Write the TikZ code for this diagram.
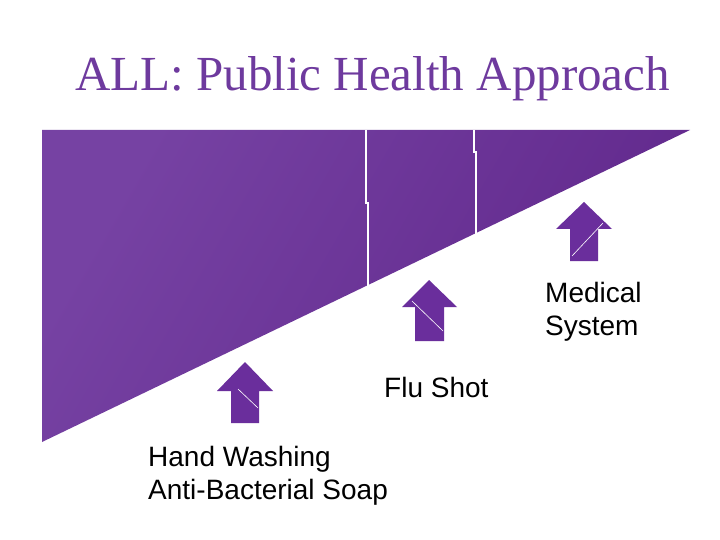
\documentclass[tikz,border=0pt]{standalone}
\usepackage{fontspec}
\setmainfont{Liberation Serif}
\newfontfamily\labelfont{Liberation Sans}
\definecolor{titlepurple}{HTML}{6E3A9E}
\definecolor{wedgelight}{HTML}{7642A3}
\definecolor{wedgedark}{HTML}{61288C}
\definecolor{arrowpurple}{HTML}{6A2E9C}
\tikzset{
  steplabel/.style={font=\labelfont\fontsize{28}{33}\selectfont,align=left,anchor=west,inner sep=0pt},
  uparrow/.style={fill=arrowpurple},
  cutline/.style={white,line width=1.5pt}
}
\begin{document}
\begin{tikzpicture}[x=1pt,y=-1pt]
\useasboundingbox[fill=white] (0,0) rectangle (720,540);
% title
\node[text=titlepurple,font=\fontsize{49}{58}\selectfont,anchor=west,inner sep=0pt] (title) at (75,79) {ALL: Public Health Approach};
% wedge
\shade[left color=wedgelight,right color=wedgedark,shading angle=60] (42,130) -- (690,130) -- (42,442) -- cycle;
\draw[cutline] (366,130) -- (366,203) -- (368,203) -- (368,286);
\draw[cutline] (474,130) -- (474,152) -- (476,152) -- (476,234);
% arrows
\fill[uparrow] (245,362) -- (273,391) -- (259,391) -- (259,423) -- (231,423) -- (231,391) -- (217,391) -- cycle;
\draw[white,line width=0.6pt] (238,389) -- (258,408);
\fill[uparrow] (429,280) -- (457,307) -- (444,307) -- (444,341) -- (415,341) -- (415,307) -- (402,307) -- cycle;
\draw[white,line width=0.6pt] (412,301) -- (443,331);
\fill[uparrow] (584,202) -- (612,229) -- (598,229) -- (598,261) -- (570,261) -- (570,229) -- (556,229) -- cycle;
\draw[white,line width=0.6pt] (572,256) -- (603,223);
% labels
\node[steplabel] (soap) at (148,476) {Hand Washing\\Anti-Bacterial Soap};
\node[steplabel] (flu) at (384,387) {Flu Shot};
\node[steplabel] (medical) at (545,312) {Medical\\System};
\end{tikzpicture}
\end{document}
